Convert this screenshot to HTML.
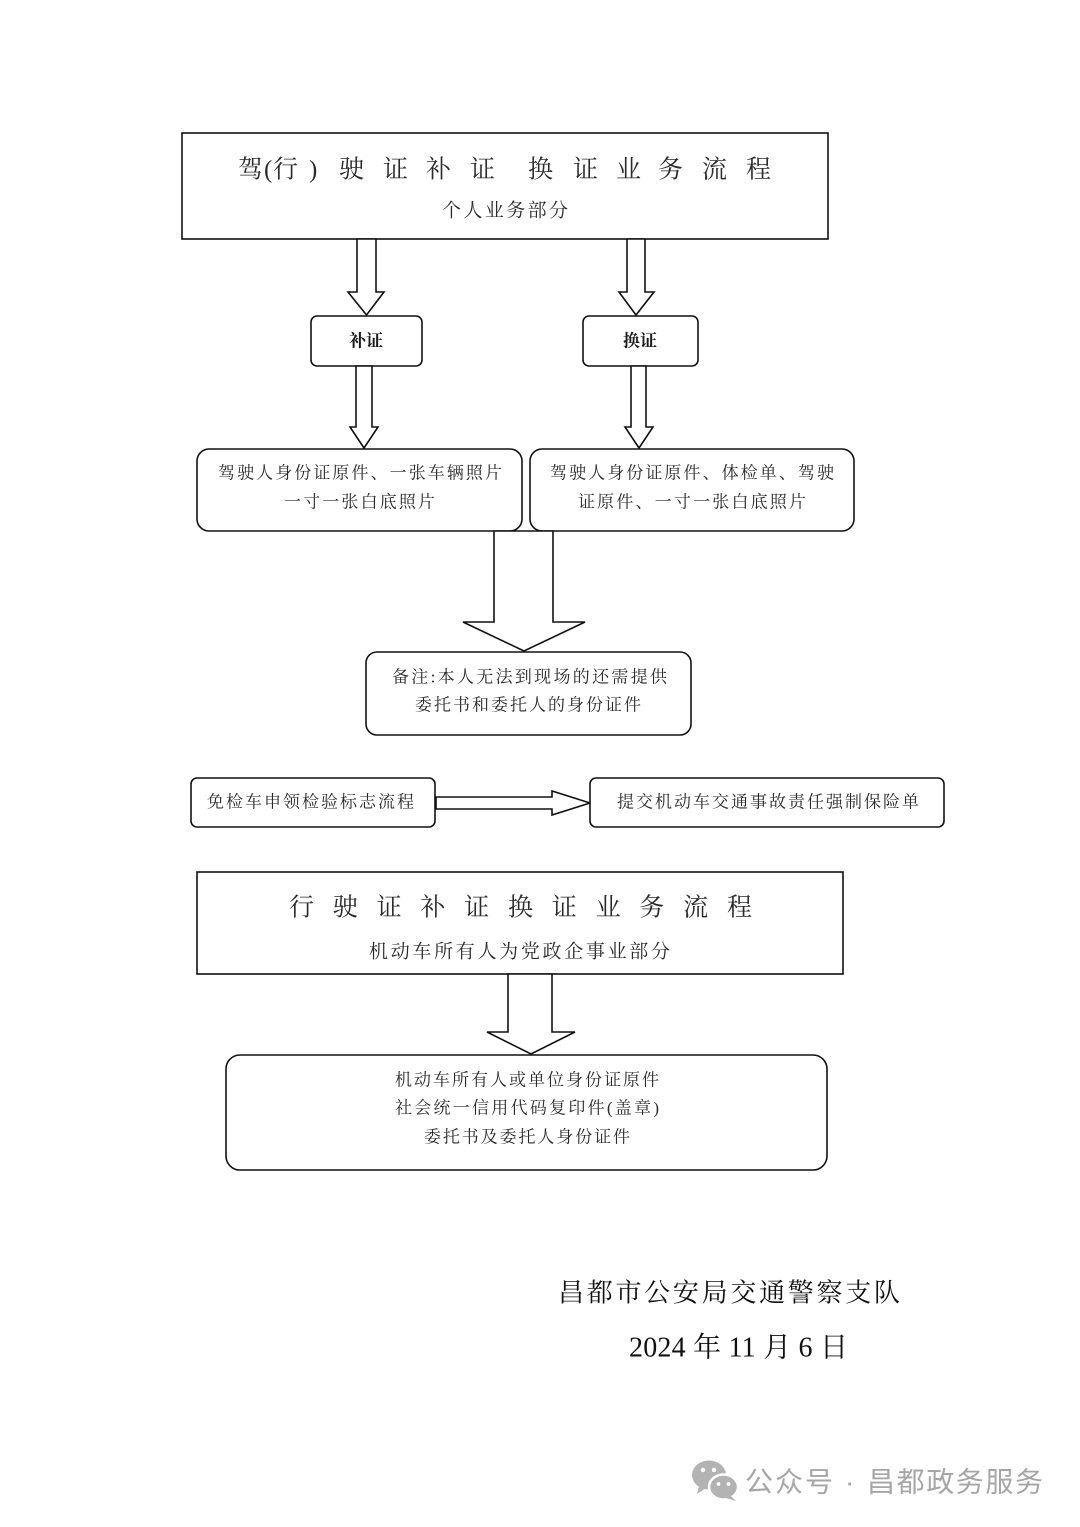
<!DOCTYPE html>
<html><head><meta charset="utf-8"><style>
html,body{margin:0;padding:0;background:#fff;}
svg{display:block;}
.t{font-family:"Liberation Serif","Noto Serif CJK SC",serif;fill:#2a2a2a;}
.b{font-family:"Liberation Serif","Noto Serif CJK SC",serif;fill:#1a1a1a;font-weight:bold;}
.s{font-family:"Liberation Serif","Noto Serif CJK SC",serif;fill:#111;}
.w{font-family:"Liberation Sans","Noto Sans CJK SC",sans-serif;fill:#a6a6a6;}
</style></head><body>
<svg width="1080" height="1527" viewBox="0 0 1080 1527" xmlns="http://www.w3.org/2000/svg">
<g fill="#fff" stroke="#111" stroke-width="1.6" stroke-linejoin="miter">
  <rect x="182" y="133" width="646" height="106"/>
  <polygon points="357,239 376,239 376,292 384,292 366.5,315 348,292 357,292"/>
  <polygon points="627,239 645,239 645,292 654,292 636,315 619,292 627,292"/>
  <rect x="311" y="316" width="111" height="50" rx="6"/>
  <rect x="583" y="316" width="115" height="50" rx="6"/>
  <polygon points="356,366 372,366 372,427 378,427 364,448 350,427 356,427"/>
  <polygon points="631,366 646,366 646,427 653,427 639,448 625,427 631,427"/>
  <rect x="197" y="449" width="325" height="82" rx="12"/>
  <rect x="530" y="449" width="324" height="82" rx="12"/>
  <polygon points="494,531 553,531 553,622 585,622 524,651 463,622 494,622"/>
  <rect x="366" y="652" width="325" height="83" rx="11"/>
  <rect x="191" y="778" width="244" height="49" rx="6"/>
  <polygon points="436,797 552,797 552,791 590,803 552,815 552,809 436,809"/>
  <rect x="590" y="778" width="354" height="49" rx="6"/>
  <rect x="197" y="872" width="646" height="102"/>
  <polygon points="508,974 552,974 552,1032 575,1032 531,1054 487,1032 508,1032"/>
  <rect x="226" y="1055" width="601" height="115" rx="14"/>
</g>

<g class="t" dominant-baseline="central" font-size="25">
  <text x="238" y="170">驾</text>
  <text x="264" y="170">(</text>
  <text x="273" y="170">行</text>
  <text x="309" y="170">)</text>
  <text x="339" y="170">驶</text>
  <text x="383" y="170">证</text>
  <text x="426" y="170">补</text>
  <text x="470" y="170">证</text>
  <text x="528" y="170">换</text>
  <text x="573" y="170">证</text>
  <text x="616" y="170">业</text>
  <text x="658" y="170">务</text>
  <text x="702" y="170">流</text>
  <text x="746" y="170">程</text>
</g>
<g class="t" dominant-baseline="central">
  <text x="442" y="211" font-size="19" textLength="126" lengthAdjust="spacing">个人业务部分</text>

  <text x="218" y="473" font-size="17" textLength="284" lengthAdjust="spacing">驾驶人身份证原件、一张车辆照片</text>
  <text x="284" y="502" font-size="17" textLength="151" lengthAdjust="spacing">一寸一张白底照片</text>
  <text x="550" y="473" font-size="17" textLength="284" lengthAdjust="spacing">驾驶人身份证原件、体检单、驾驶</text>
  <text x="578" y="502" font-size="17" textLength="228" lengthAdjust="spacing">证原件、一寸一张白底照片</text>

  <text x="392" y="677" font-size="17" textLength="275" lengthAdjust="spacing">备注:本人无法到现场的还需提供</text>
  <text x="415" y="705" font-size="17" textLength="226" lengthAdjust="spacing">委托书和委托人的身份证件</text>

  <text x="207" y="802" font-size="17" textLength="207" lengthAdjust="spacing">免检车申领检验标志流程</text>
  <text x="617" y="802" font-size="17" textLength="302" lengthAdjust="spacing">提交机动车交通事故责任强制保险单</text>

  <text x="289" y="908" font-size="25" textLength="463" lengthAdjust="spacing">行驶证补证换证业务流程</text>
  <text x="369" y="952" font-size="19" textLength="301" lengthAdjust="spacing">机动车所有人为党政企事业部分</text>

  <text x="395" y="1080" font-size="17" textLength="264" lengthAdjust="spacing">机动车所有人或单位身份证原件</text>
  <text x="395" y="1108" font-size="17" textLength="264" lengthAdjust="spacing">社会统一信用代码复印件(盖章)</text>
  <text x="424" y="1137" font-size="17" textLength="206" lengthAdjust="spacing">委托书及委托人身份证件</text>
</g>

<g class="b" dominant-baseline="central" font-size="17" text-anchor="middle">
  <text x="366" y="341">补证</text>
  <text x="640" y="341">换证</text>
</g>

<g class="s" dominant-baseline="central">
  <text x="558" y="1293" font-size="26" textLength="342" lengthAdjust="spacing">昌都市公安局交通警察支队</text>
  <text x="629" y="1348" font-size="28" textLength="219" lengthAdjust="spacing">2024 年 11 月 6 日</text>
</g>

<g fill="#b3b3b3">
  <ellipse cx="709" cy="1475" rx="17" ry="14.5"/>
  <polygon points="699,1486 697,1494 706,1488"/>
  <ellipse cx="723.5" cy="1487" rx="14.5" ry="12.5" stroke="#fff" stroke-width="2.5"/>
  <polygon points="731,1496 736,1501 726,1498"/>
</g>
<g fill="#fff">
  <circle cx="703" cy="1470" r="2.2"/>
  <circle cx="714" cy="1470" r="2.2"/>
  <circle cx="718.5" cy="1484" r="1.9"/>
  <circle cx="728.5" cy="1484" r="1.9"/>
</g>
<g class="w" dominant-baseline="central" font-size="28">
  <text x="745" y="1482" textLength="88" lengthAdjust="spacing">公众号</text>
  <text x="845" y="1482">·</text>
  <text x="867" y="1482" textLength="176" lengthAdjust="spacing">昌都政务服务</text>
</g>
</svg>
</body></html>
